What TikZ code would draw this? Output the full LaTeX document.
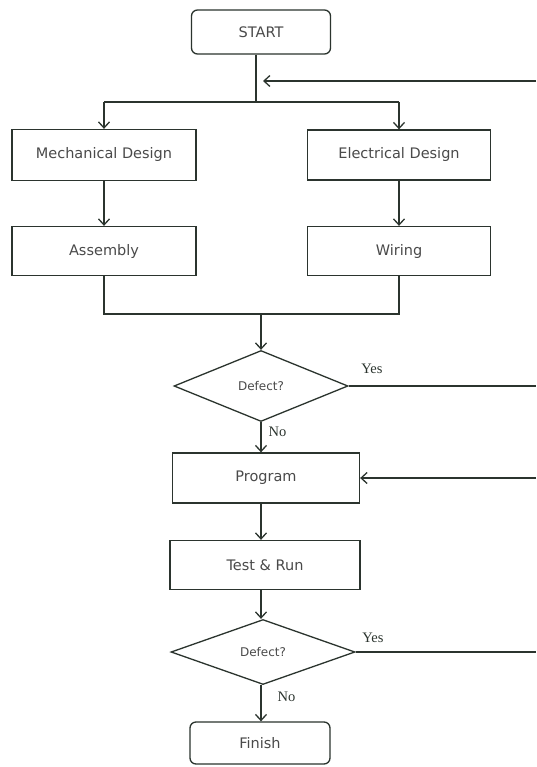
\documentclass[tikz,border=0pt]{standalone}
\usepackage{fontspec}
\setmainfont{DejaVu Sans}
\newfontfamily\yesfont{Liberation Serif}
\usetikzlibrary{shapes.geometric,arrows.meta}
\definecolor{lnc}{HTML}{2B342E}
\definecolor{txc}{HTML}{4A4A4A}
\begin{document}
\begin{tikzpicture}[x=1pt,y=-1pt,
  line width=1.3pt, draw=lnc,
  >={Straight Barb[length=6pt,width=11pt]},
  boxn/.style={draw=lnc, rectangle, inner sep=0pt, text=txc, font=\fontsize{14.5}{16}\selectfont},
  roundn/.style={boxn, rounded corners=6pt},
  decn/.style={draw=lnc, diamond, inner sep=0pt, text=txc, font=\fontsize{12}{14}\selectfont},
  lbl/.style={text=lnc, font=\yesfont\fontsize{14.5}{16}\selectfont, inner sep=0pt, anchor=base west},
  conn/.style={draw=lnc, line width=1.3pt}
]
\useasboundingbox (0,0) rectangle (536,767);
\fill[white] (0,0) rectangle (536,767);

\node[roundn, minimum width=139pt, minimum height=44pt] (start) at (261,32) {START};
\node[boxn, minimum width=184pt, minimum height=51pt] (mech) at (104,155) {Mechanical Design};
\node[boxn, minimum width=183pt, minimum height=50pt] (elec) at (399,155) {Electrical Design};
\node[boxn, minimum width=184pt, minimum height=49pt] (asm) at (104,251) {Assembly};
\node[boxn, minimum width=183pt, minimum height=49pt] (wir) at (399,251) {Wiring};
\node[decn, minimum width=174pt, minimum height=71pt] (d1) at (261,386) {Defect?};
\node[boxn, minimum width=187pt, minimum height=50pt] (prog) at (266,478) {Program};
\node[boxn, minimum width=190pt, minimum height=49pt] (test) at (265,565) {Test \& Run};
\node[decn, minimum width=184pt, minimum height=65pt] (d2) at (263,652) {Defect?};
\node[roundn, minimum width=140pt, minimum height=42pt] (fin) at (260,743) {Finish};

\coordinate (j1) at (256,102);
\coordinate (r1) at (536,81);
\coordinate (t1) at (263,81);
\coordinate (j2) at (261,314);
\coordinate (r2) at (536,386);
\coordinate (r3) at (536,478);
\coordinate (r4) at (536,652);

% top split
\draw[conn] (start.south -| j1) -- (j1);
\draw[conn] (mech.north |- j1) -- (elec.north |- j1);
\draw[conn,->] (mech.north |- j1) -- (mech.north);
\draw[conn,->] (elec.north |- j1) -- (elec.north);
\draw[conn,->] (r1) -- (t1);
% branches
\draw[conn,->] (mech) -- (asm);
\draw[conn,->] (elec) -- (wir);
% merge
\draw[conn] (asm.south) -- (asm.south |- j2) -- (wir.south |- j2) -- (wir.south);
\draw[conn,->] (j2) -- (d1.north);
% lower chain
\draw[conn,->] (d1.south) -- (d1.south |- prog.north);
\node[lbl] (no1) at ([xshift=7pt,yshift=-14pt]d1.south) {No};
\draw[conn] (d1.east) -- (r2);
\node[lbl] (yes1) at ([xshift=12pt,yshift=13pt]d1.east) {Yes};
\draw[conn,->] (r3) -- (prog.east);
\draw[conn,->] (prog.south -| d1.south) -- (test.north -| d1.south);
\draw[conn,->] (test.south -| d1.south) -- (d2.north -| d1.south);
\draw[conn] (d2.east) -- (r4);
\node[lbl] (yes2) at ([xshift=6pt,yshift=10pt]d2.east) {Yes};
\draw[conn,->] (d2.south -| d1.south) -- (fin.north -| d1.south);
\node[lbl] (no2) at ([xshift=14pt,yshift=-16pt]d2.south) {No};
\end{tikzpicture}
\end{document}
